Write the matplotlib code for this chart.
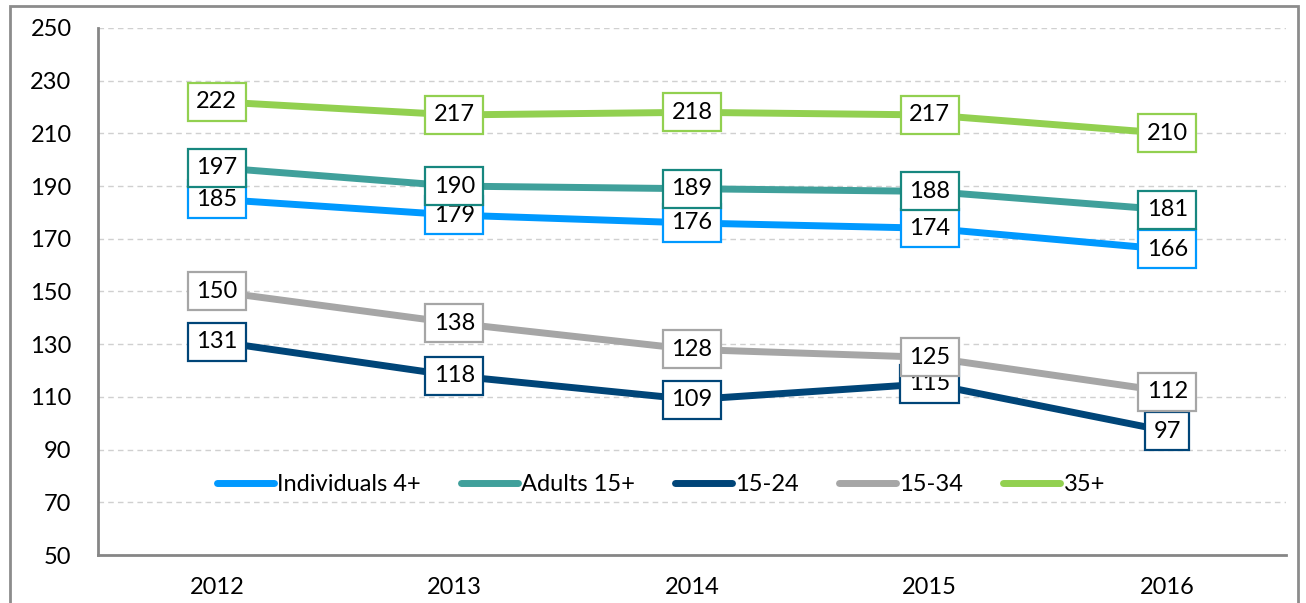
import matplotlib
matplotlib.use("Agg")
import matplotlib.pyplot as plt
from matplotlib.patches import Rectangle

plt.rcParams['font.family'] = ['Lato', 'DejaVu Sans']

# data
years = ['2012', '2013', '2014', '2015', '2016']
series_names = ['Individuals 4+', 'Adults 15+', '15-24', '15-34', '35+']
individuals = [185, 179, 176, 174, 166]
adults = [197, 190, 189, 188, 181]
age_15_24 = [131, 118, 109, 115, 97]
age_15_34 = [150, 138, 128, 125, 112]
age_35 = [222, 217, 218, 217, 210]

series = [individuals, adults, age_15_24, age_15_34, age_35]
line_colors = ['#0099FF', '#40A09B', '#004578', '#A6A6A6', '#92D050']
box_colors = ['#0099FF', '#17877F', '#004578', '#A6A6A6', '#92D050']

fig = plt.figure(figsize=(13.06, 6.03), dpi=100)
ax = fig.add_axes([0.075, 0.0796, 0.9097, 0.874])

x = list(range(len(years)))
for vals, name, c in zip(series, series_names, line_colors):
    ax.plot(x, vals, color=c, lw=5, label=name, solid_capstyle='round', zorder=3)

# data labels
for vals, c in zip(series, box_colors):
    for xi, v in zip(x, vals):
        ax.text(xi, v, str(v), ha='center', va='center', fontsize=17, color='black', zorder=5,
                bbox=dict(boxstyle='square,pad=0.36', fc='white', ec=c, lw=1.6))

ax.set_xlim(-0.5, 4.5)
ax.set_ylim(50, 250)
ax.set_yticks(range(50, 251, 20))
ax.set_xticks(x)
ax.set_xticklabels(years)
ax.tick_params(axis='both', length=0, labelsize=17)
ax.tick_params(axis='y', pad=19)
ax.tick_params(axis='x', pad=16)

ax.grid(axis='y', color='#D0D0D0', ls=(0, (4, 3)), lw=1)
ax.set_axisbelow(True)
for s in ['top', 'right']:
    ax.spines[s].set_visible(False)
for s in ['left', 'bottom']:
    ax.spines[s].set_color('#868686')
    ax.spines[s].set_linewidth(2)

leg = ax.legend(loc='center', bbox_to_anchor=(0.474, 0.133), ncol=5, frameon=False,
                fontsize=17, handlelength=2.4, handletextpad=0.15, columnspacing=1.7)

# outer border
fig.patches.append(Rectangle((0.0077, -0.1), 0.9862, 1.09, transform=fig.transFigure,
                             fill=False, ec='#8C8C8C', lw=2, clip_on=False))

fig.savefig('out.png', dpi=100)
